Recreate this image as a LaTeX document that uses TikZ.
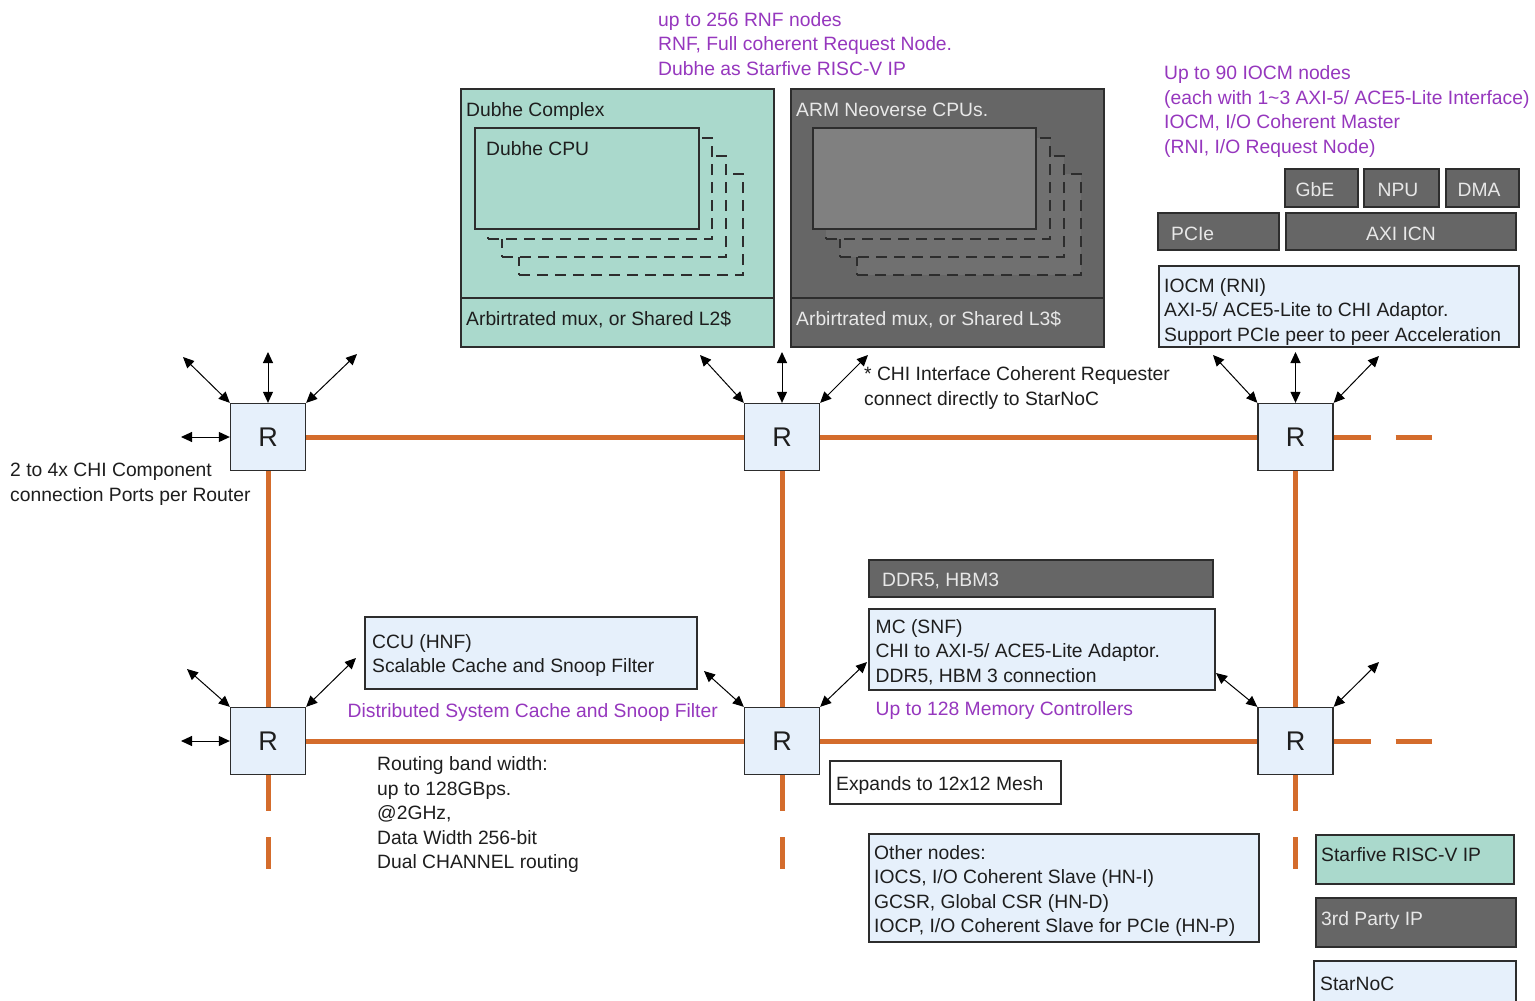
\documentclass[tikz,border=0pt]{standalone}
\usepackage{fontspec}
\setmainfont{Liberation Sans}
\usetikzlibrary{arrows.meta}
\definecolor{tealbg}{RGB}{170,217,204}
\definecolor{darkbg}{RGB}{102,102,102}
\definecolor{armin}{RGB}{128,128,128}
\definecolor{shgray}{RGB}{112,112,112}
\definecolor{lblue}{RGB}{230,240,251}
\definecolor{purp}{RGB}{150,55,190}
\definecolor{meshc}{RGB}{212,108,44}
\definecolor{edgec}{RGB}{45,45,45}
\definecolor{txtc}{RGB}{30,30,30}
\definecolor{lighttxt}{RGB}{232,232,232}
\newcommand\mytxt{\fontsize{19.3}{24.5}\selectfont}
\newcommand\myR{\fontsize{27}{30}\selectfont}
\begin{document}
\begin{tikzpicture}[x=1pt,y=-1pt,
  box/.style={draw=edgec,line width=1.3pt,inner sep=0pt,outer sep=0pt,anchor=north west},
  shbox/.style={box,dash pattern=on 11pt off 7pt,minimum width=224,minimum height=101},
  rtr/.style={draw=edgec,fill=lblue,line width=1.3pt,inner sep=0pt,minimum width=75,minimum height=67,font=\myR,text=txtc},
  txt/.style={anchor=base west,inner sep=0pt,font=\mytxt,text=txtc},
  mtxt/.style={txt,align=left},
  ltxt/.style={txt,text=lighttxt},
  ctxt/.style={anchor=base,inner sep=0pt,font=\mytxt,text=lighttxt},
  ptxt/.style={mtxt,text=purp},
  mesh/.style={draw=meshc,line width=5pt},
  bi/.style={{Triangle[length=11pt,width=10pt]}-{Triangle[length=11pt,width=10pt]},line width=1pt,draw=black}
]
\useasboundingbox (0,0) rectangle (1535,1001);
\fill[white] (0,0) rectangle (1535,1001);

% ---- Dubhe complex
\node[box,fill=tealbg,minimum width=313,minimum height=209] (dubhe) at (461,89) {};
\node[box,fill=tealbg,minimum width=313,minimum height=49] (dubhel2) at (461,298) {};
\node[shbox,fill=tealbg] (ds3) at (519,174) {};
\node[shbox,fill=tealbg] (ds2) at (502,156) {};
\node[shbox,fill=tealbg] (ds1) at (488,138) {};
\node[box,fill=tealbg,minimum width=224,minimum height=101] (dcpu) at (475,128) {};
\node[txt] (tdubhe) at (466,116) {Dubhe Complex};
\node[txt] (tdcpu) at (486,155) {Dubhe CPU};
\node[txt] (tl2) at (466,325) {Arbirtrated mux, or Shared L2\$};

% ---- ARM complex
\node[box,fill=darkbg,minimum width=313,minimum height=209] (arm) at (791,89) {};
\node[box,fill=darkbg,minimum width=313,minimum height=49] (arml3) at (791,298) {};
\node[shbox,fill=shgray] (as3) at (857,174) {};
\node[shbox,fill=shgray] (as2) at (840,156) {};
\node[shbox,fill=shgray] (as1) at (826,138) {};
\node[box,fill=armin,minimum width=223,minimum height=101] (acpu) at (813,128) {};
\node[ltxt] (tarm) at (796,116) {ARM Neoverse CPUs.};
\node[ltxt] (tl3) at (796,325) {Arbirtrated mux, or Shared L3\$};

% multi-line texts: base = baseline of last line
\node[ptxt] (trnf) at (658,75) {up to 256 RNF nodes\\RNF, Full coherent Request Node.\\Dubhe as Starfive RISC-V IP};

% ---- IO side
\node[ptxt] (tiocm) at (1164,153) {Up to 90 IOCM nodes\\(each with 1\textasciitilde 3 AXI-5/ ACE5-Lite Interface)\\IOCM, I/O Coherent Master\\(RNI, I/O Request Node)};
\node[box,fill=darkbg,minimum width=73,minimum height=38] (gbe) at (1285,169) {};
\node[box,fill=darkbg,minimum width=75,minimum height=38] (npu) at (1364,169) {};
\node[box,fill=darkbg,minimum width=73,minimum height=38] (dma) at (1446,169) {};
\node[ctxt] (tgbe) at (1315,196.5) {GbE};
\node[ctxt] (tnpu) at (1398,196.5) {NPU};
\node[ctxt] (tdma) at (1479,196.5) {DMA};
\node[box,fill=darkbg,minimum width=121,minimum height=37] (pcie) at (1158,213) {};
\node[box,fill=darkbg,minimum width=230,minimum height=37] (axi) at (1286,213) {};
\node[ltxt] (tpcie) at (1171,240.5) {PCIe};
\node[ctxt] (taxi) at (1401,240.5) {AXI ICN};
\node[box,fill=lblue,minimum width=360,minimum height=81] (iocm) at (1159,266) {};
\node[mtxt] (tiocmb) at (1164,341) {IOCM (RNI)\\AXI-5/ ACE5-Lite to CHI Adaptor.\\Support PCIe peer to peer Acceleration};

% ---- notes
\node[mtxt] (tchi) at (864,405.2) {* CHI Interface Coherent Requester\\connect directly to StarNoC};
\node[mtxt] (tports) at (10,501) {2 to 4x CHI Component\\connection Ports per Router};

% ---- memory
\node[box,fill=darkbg,minimum width=344,minimum height=37] (ddr) at (869,560) {};
\node[ltxt] (tddr) at (882,586) {DDR5, HBM3};
\node[box,fill=lblue,minimum width=346,minimum height=81] (mc) at (869,609) {};
\node[mtxt] (tmc) at (875.5,682) {MC (SNF)\\CHI to AXI-5/ ACE5-Lite Adaptor.\\DDR5, HBM 3 connection};
\node[ptxt] (tmcn) at (875.5,715.5) {Up to 128 Memory Controllers};

% ---- CCU
\node[box,fill=lblue,minimum width=332,minimum height=72] (ccu) at (365,617) {};
\node[mtxt] (tccu) at (372,672.5) {CCU (HNF)\\Scalable Cache and Snoop Filter};
\node[ptxt] (tdsc) at (347.5,717) {Distributed System Cache and Snoop Filter};
\node[mtxt] (troute) at (377,868.7) {Routing band width:\\up to 128GBps.\\@2GHz,\\Data Width 256-bit\\Dual CHANNEL routing};

\node[box,fill=white,minimum width=231,minimum height=43] (meshbox) at (830,761) {};
\node[txt] (tmesh) at (836,790.5) {Expands to 12x12 Mesh};

\node[box,fill=lblue,minimum width=390,minimum height=108] (other) at (869,834) {};
\node[mtxt] (tother) at (874,932.8) {Other nodes:\\IOCS, I/O Coherent Slave (HN-I)\\GCSR, Global CSR (HN-D)\\IOCP, I/O Coherent Slave for PCIe (HN-P)};

% ---- legend
\node[box,fill=tealbg,minimum width=198,minimum height=49] (lgstar) at (1316,835) {};
\node[txt] (tlgstar) at (1321,861.5) {Starfive RISC-V IP};
\node[box,fill=darkbg,minimum width=200,minimum height=49] (lg3rd) at (1316,898) {};
\node[ltxt] (tlg3rd) at (1321,925) {3rd Party IP};
\node[box,fill=lblue,draw=none,minimum width=202,minimum height=40] (lgnoc) at (1314,961) {};
\draw[draw=edgec,line width=1.3pt] (lgnoc.south west) -- (lgnoc.north west) -- (lgnoc.north east) -- (lgnoc.south east);
\node[txt] (tlgnoc) at (1320,990.5) {StarNoC};

% ---- routers
\node[rtr] (r1) at (268,437) {R};
\node[rtr] (r2) at (782,437) {R};
\node[rtr] (r3) at (1295.5,437) {R};
\node[rtr] (r4) at (268,741) {R};
\node[rtr] (r5) at (782,741) {R};
\node[rtr] (r6) at (1295.5,741) {R};

% mesh
\draw[mesh] (r1.east) -- (r2.west);
\draw[mesh] (r2.east) -- (r3.west);
\draw[mesh] (r4.east) -- (r5.west);
\draw[mesh] (r5.east) -- (r6.west);
\draw[mesh] (r1.south) -- (r4.north);
\draw[mesh] (r2.south) -- (r5.north);
\draw[mesh] (r3.south) -- (r6.north);
\coordinate (s3) at (1432,437);
\coordinate (s6) at (1432,741);
\coordinate (s4) at (268,869);
\coordinate (s5) at (782,869);
\coordinate (s6v) at (1295.5,869);
\draw[mesh,dash pattern=on 37pt off 25pt on 37pt off 300pt] (r3.east) -- (s3);
\draw[mesh,dash pattern=on 37pt off 25pt on 37pt off 300pt] (r6.east) -- (s6);
\draw[mesh,dash pattern=on 36pt off 26pt on 32pt off 300pt] (r4.south) -- (s4);
\draw[mesh,dash pattern=on 36pt off 26pt on 32pt off 300pt] (r5.south) -- (s5);
\draw[mesh,dash pattern=on 36pt off 26pt on 32pt off 300pt] (r6.south) -- (s6v);

% arrows
\coordinate (e1a) at (183,357);
\coordinate (e1b) at (268,352);
\coordinate (e1c) at (357,354);
\coordinate (e1d) at (181,437);
\coordinate (e2a) at (700,355);
\coordinate (e2b) at (782,352);
\coordinate (e2c) at (868,355);
\coordinate (e3a) at (1213,355);
\coordinate (e3b) at (1295.5,352);
\coordinate (e3c) at (1379,356);
\coordinate (e4a) at (187,669);
\coordinate (e4c) at (356,658);
\coordinate (e4d) at (181,741);
\coordinate (e5a) at (704,671);
\coordinate (e5c) at (867,662);
\coordinate (e6a) at (1216,673);
\coordinate (e6c) at (1379,662);
\draw[bi] (r1.north west) -- (e1a);
\draw[bi] (r1.north) -- (e1b);
\draw[bi] (r1.north east) -- (e1c);
\draw[bi] (r1.west) -- (e1d);
\draw[bi] (r2.north west) -- (e2a);
\draw[bi] (r2.north) -- (e2b);
\draw[bi] (r2.north east) -- (e2c);
\draw[bi] (r3.north west) -- (e3a);
\draw[bi] (r3.north) -- (e3b);
\draw[bi] (r3.north east) -- (e3c);
\draw[bi] (r4.north west) -- (e4a);
\draw[bi] (r4.north east) -- (e4c);
\draw[bi] (r4.west) -- (e4d);
\draw[bi] (r5.north west) -- (e5a);
\draw[bi] (r5.north east) -- (e5c);
\draw[bi] (r6.north west) -- (e6a);
\draw[bi] (r6.north east) -- (e6c);
\end{tikzpicture}
\end{document}
